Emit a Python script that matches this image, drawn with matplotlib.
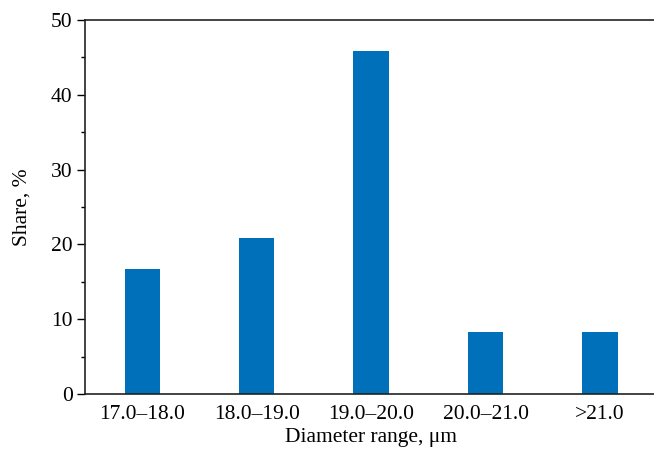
import matplotlib
matplotlib.use("Agg")
import matplotlib.pyplot as plt
from matplotlib.ticker import MultipleLocator

categories = ["17.0–18.0", "18.0–19.0", "19.0–20.0", "20.0–21.0", ">21.0"]
shares = [16.7, 20.8, 45.8, 8.3, 8.3]

plt.rcParams['font.family'] = ['Liberation Serif', 'DejaVu Serif']

fig = plt.figure(figsize=(6.54, 4.5), dpi=100)
ax = fig.add_axes([0.13, 0.1244, 0.875, 0.8312])

x = range(len(categories))
ax.bar(x, shares, width=0.31, color="#0070BA")

ax.set_xlim(-0.5, 4.5)
ax.set_ylim(0, 50)
ax.set_xticks(list(x))
ax.set_xticklabels(categories, fontsize=15.5)
ax.tick_params(axis='x', length=0, pad=8)
ax.yaxis.set_major_locator(MultipleLocator(10))
ax.yaxis.set_minor_locator(MultipleLocator(5))
ax.tick_params(axis='y', which='major', length=6, width=1, labelsize=15.5, pad=3)
ax.tick_params(axis='y', which='minor', length=3, width=1)

for s in ['left', 'bottom', 'top']:
    ax.spines[s].set_linewidth(1.2)
    ax.spines[s].set_color('#222222')
ax.spines['right'].set_visible(False)

ax.set_xlabel("Diameter range, μm", fontsize=15.5, labelpad=3)
ax.set_ylabel("Share, %", fontsize=15.5, labelpad=14)

fig.savefig("out.png", dpi=100)
